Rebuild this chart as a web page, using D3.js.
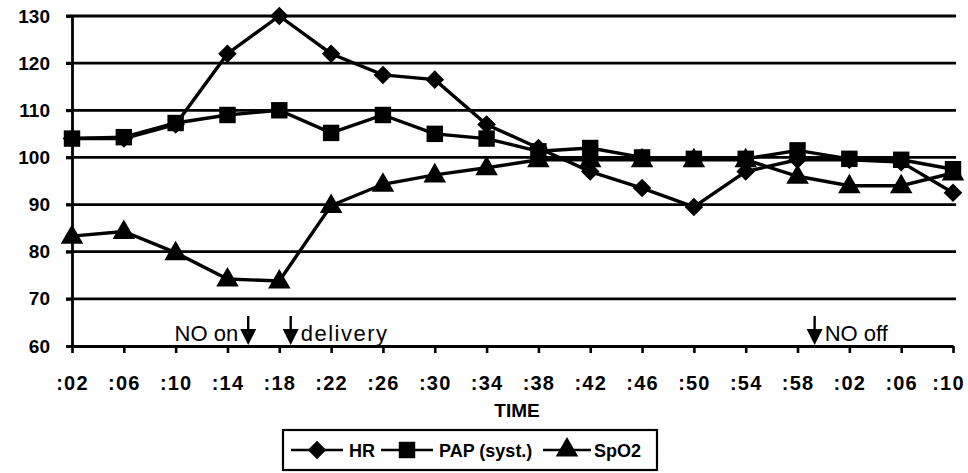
<!DOCTYPE html>
<html>
<head>
<meta charset="utf-8">
<script src="https://cdn.jsdelivr.net/npm/d3@7"></script>
<style>
  body { margin: 0; background: #fff; }
  svg text { font-family: "Liberation Sans", Arial, sans-serif; fill: #000; }
</style>
</head>
<body>
<div id="chart"></div>
<script>
// time points (minutes past the hour)
var timeLabels = [':02', ':06', ':10', ':14', ':18', ':22', ':26', ':30', ':34',
                  ':38', ':42', ':46', ':50', ':54', ':58', ':02', ':06', ':10'];

var hr   = [104, 104, 107, 122, 130, 122, 117.5, 116.5, 107, 102, 97, 93.5, 89.5, 97, 99.5, 99.5, 99, 92.5];
var pap  = [104, 104.3, 107.3, 109, 110, 105.2, 109, 105, 104, 101.3, 102, 100, 99.7, 99.7, 101.5, 99.7, 99.5, 97.5];
var spo2 = [83.3, 84.3, 79.8, 74.2, 73.8, 89.8, 94.3, 96.3, 97.8, 99.5, 99.5, 99.5, 99.5, 99.5, 96, 94, 94, 96.7];

var yTicks = [60, 70, 80, 90, 100, 110, 120, 130];

// annotations: position as index on the time axis
var notes = [
  { at: 3.4,  label: 'NO on',    side: 'left' },
  { at: 4.22, label: 'delivery', side: 'right' },
  { at: 14.33, label: 'NO off',  side: 'right' }
];

var seriesNames = ['HR', 'PAP (syst.)', 'SpO2'];

var W = 968, H = 473;
var svg = d3.select('#chart').append('svg')
    .attr('width', W).attr('height', H);

var x = d3.scaleLinear().domain([0, timeLabels.length - 1]).range([72, 953]);
var y = d3.scaleLinear().domain([60, 130]).range([346, 16]);

// horizontal grid lines
svg.append('g').selectAll('line')
   .data(yTicks.slice(1))
   .enter().append('line')
   .attr('x1', 66).attr('x2', 956)
   .attr('y1', function(d) { return y(d); })
   .attr('y2', function(d) { return y(d); })
   .attr('stroke', '#000').attr('stroke-width', 2.8);

// y axis
var yAxis = svg.append('g')
   .attr('transform', 'translate(72,0)')
   .call(d3.axisLeft(y).tickValues(yTicks).tickSizeInner(6).tickSizeOuter(0).tickPadding(16));
yAxis.select('.domain').attr('stroke-width', 2.8);
yAxis.selectAll('line').attr('stroke-width', 2.8);
yAxis.selectAll('text')
   .style('font-family', '"Liberation Sans", Arial, sans-serif')
   .style('font-size', '19px').style('font-weight', 'bold');

// x axis
var xAxis = svg.append('g')
   .attr('transform', 'translate(0,' + y(60) + ')')
   .call(d3.axisBottom(x).tickValues(d3.range(timeLabels.length))
      .tickFormat(function(i) { return timeLabels[i]; })
      .tickSizeInner(7).tickSizeOuter(0).tickPadding(23));
xAxis.select('.domain').attr('stroke-width', 2.8);
xAxis.selectAll('line').attr('stroke-width', 2.6);
xAxis.selectAll('text')
   .style('font-family', '"Liberation Sans", Arial, sans-serif')
   .style('font-size', '20px').style('font-weight', 'bold')
   .style('letter-spacing', '1.2px')
   .attr('dx', function(i) { return i === timeLabels.length - 1 ? -5 : 0; });

// axis title
svg.append('text')
   .attr('x', 517).attr('y', 417)
   .attr('text-anchor', 'middle')
   .style('font-size', '19px').style('font-weight', 'bold')
   .text('TIME');

// marker shapes
var symbols = [
  d3.symbol().type(d3.symbolDiamond2).size(220),
  d3.symbol().type(d3.symbolSquare).size(270),
  d3.symbol().type(d3.symbolTriangle).size(220)
];

var line = d3.line()
   .x(function(d, i) { return x(i); })
   .y(function(d) { return y(d); });

[hr, pap, spo2].forEach(function(vals, k) {
  svg.append('path')
     .datum(vals)
     .attr('d', line)
     .attr('fill', 'none')
     .attr('stroke', '#000')
     .attr('stroke-width', 3.4);
  svg.append('g').selectAll('path')
     .data(vals)
     .enter().append('path')
     .attr('d', symbols[k])
     .attr('transform', function(d, i) {
        return 'translate(' + x(i) + ',' + (y(d) + (k === 2 ? 1 : 0)) + ')';
     })
     .attr('fill', '#000');
});

// event arrows and labels
notes.forEach(function(n) {
  var ax = x(n.at), base = y(60) - 1;
  svg.append('line')
     .attr('x1', ax).attr('x2', ax)
     .attr('y1', base - 29).attr('y2', base - 12)
     .attr('stroke', '#000').attr('stroke-width', 2.4);
  svg.append('path')
     .attr('d', 'M' + (ax - 8) + ',' + (base - 16) + 'L' + (ax + 8) + ',' + (base - 16) + 'L' + ax + ',' + base + 'Z')
     .attr('fill', '#000');
  svg.append('text')
     .attr('x', n.side === 'left' ? ax - 10 : ax + 10)
     .attr('y', base - 4)
     .attr('text-anchor', n.side === 'left' ? 'end' : 'start')
     .style('font-size', '22px')
     .style('letter-spacing', n.label === 'delivery' ? '1.5px' : '0px')
     .text(n.label);
});

// legend
var lg = svg.append('g').attr('transform', 'translate(283,430)');
lg.append('rect')
  .attr('width', 374).attr('height', 40)
  .attr('fill', 'none').attr('stroke', '#000').attr('stroke-width', 2.2);

var legendItems = [
  { x0: 8,   x1: 60,  text: 66 },
  { x0: 98,  x1: 150, text: 156 },
  { x0: 260, x1: 308, text: 311 }
];
seriesNames.forEach(function(name, k) {
  var it = legendItems[k];
  lg.append('line')
    .attr('x1', it.x0).attr('x2', it.x1)
    .attr('y1', 20).attr('y2', 20)
    .attr('stroke', '#000').attr('stroke-width', 2.6);
  lg.append('path')
    .attr('d', symbols[k])
    .attr('transform', 'translate(' + ((it.x0 + it.x1) / 2) + ',20)')
    .attr('fill', '#000');
  lg.append('text')
    .attr('x', it.text).attr('y', 27)
    .style('font-size', '18px').style('font-weight', 'bold')
    .text(name);
});
</script>
</body>
</html>
